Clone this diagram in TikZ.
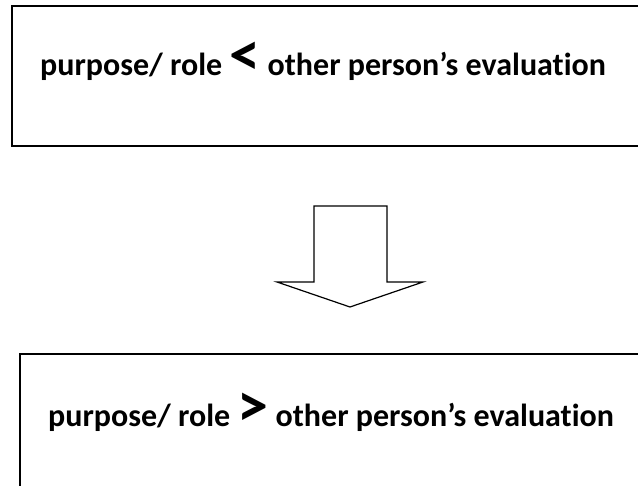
\documentclass[tikz,border=0pt]{standalone}
\usepackage{fontspec}
\setmainfont{Carlito}[Ligatures=NoCommon]

\newcommand{\bigrel}[1]{{\fontsize{62}{66}\selectfont #1}}

\begin{document}
\begin{tikzpicture}[x=1pt,y=-1pt,
    frame/.style={draw,line width=1.4pt},
    relation/.style={font=\bfseries\fontsize{32}{36}\selectfont,anchor=base west,inner sep=0pt},
    blockarrow/.style={draw,line width=1.2pt,fill=white,line join=miter}]
    \useasboundingbox (0,0) rectangle (638,486);
    \clip (0,0) rectangle (638,486);

    % the two boxes run off the right and bottom edge
    \draw[frame] (12,6) rectangle (680,146);
    \draw[frame] (20,354) rectangle (680,540);

    \node[relation] (before) at (40,76) {purpose/ role \bigrel{<} other person’s evaluation};
    \node[relation] (after) at (48,427) {purpose/ role \bigrel{>} other person’s evaluation};

    % block arrow between the boxes
    \draw[blockarrow] (314,206) -- (387,206) -- (387,282) -- (423,282)
        -- (350,307) -- (277,282) -- (314,282) -- cycle;
\end{tikzpicture}
\end{document}
